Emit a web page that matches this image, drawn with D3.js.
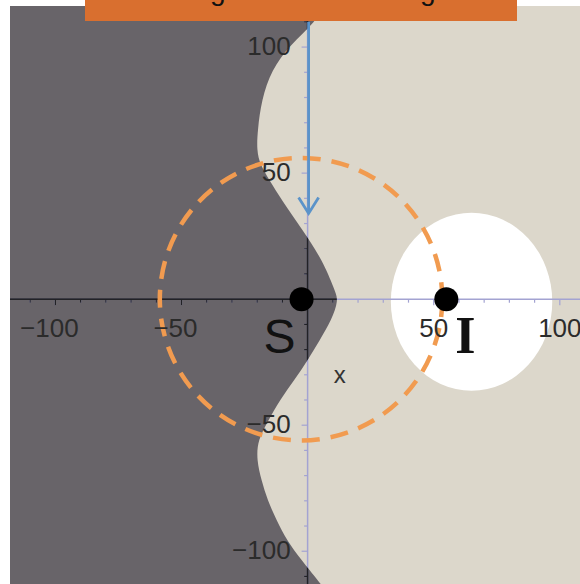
<!DOCTYPE html>
<html><head><meta charset="utf-8">
<script src="https://cdn.jsdelivr.net/npm/d3@7/dist/d3.min.js"></script>
<style>html,body{margin:0;padding:0;background:#fff;}svg{display:block;}</style>
</head><body>
<svg id="chart" width="580" height="584"></svg>
<script>
// ---- data (chart units) ----
const titleText = "Signal-dominant region";
const xDomain = [-118, 108];
const yDomain = [-113, 116.3];
const majorTicks = [-100, -50, 50, 100];
const minorTicks = d3.range(-110, 111, 10);
// boundary between dark (left) and light region: [x, y]
const boundaryX = [7.5, 3.2, -7.1, -14.3, -18.3, -19.8, -20.2, -18.8, -15.1, -10.3, -2.0, 5.9, 10.7, 12.3, 9.5, 4.8, 0, -5.2, -11.1, -15.5, -19.8, -20.2, -18.3, -15.9, -12.3, -8.3, -2.4, 6.0];
const boundaryY = [118, 109.9, 100.8, 90.9, 79.0, 67.1, 59.1, 53.2, 47.2, 39.3, 27.4, 15.5, 3.6, -0.4, -8.3, -16.3, -24.2, -32.1, -40.1, -48.0, -55.9, -63.9, -71.8, -79.8, -87.7, -95.6, -103.6, -114];
// white region (ellipse) centre and radii
const whiteCenter = [65, -1];
const whiteRadii = [32, 35.3];
// points
const pointNames = ["S", "I"];
const pointX = [-2.4, 55];
const pointY = [0, 0];
// dashed circle around S
const circleCenter = [-2.6, 0];
const circleRadius = 56;
// arrow
const arrowFrom = [0, 110];
const arrowTo = [0, 34];
// marker "x"
const markerPos = [12.7, -30.5];

// ---- drawing ----
const svg = d3.select("#chart");
const x = d3.scaleLinear().domain(xDomain).range([10, 580]);
const y = d3.scaleLinear().domain(yDomain).range([584, 6]);

const defs = svg.append("defs");
const boundary = boundaryX.map((v, i) => [v, boundaryY[i]]);
const darkPath = d3.line().x(d => x(d[0])).y(d => y(d[1])).curve(d3.curveBasis)(boundary);
const darkD = "M" + x(xDomain[0]) + "," + y(yDomain[1] + 2) + "L" + darkPath.slice(1) + "L" + x(xDomain[0]) + "," + y(yDomain[0] - 2) + "Z";

defs.append("clipPath").attr("id", "plotclip").append("rect")
  .attr("x", x(xDomain[0])).attr("y", y(yDomain[1]))
  .attr("width", x(xDomain[1]) - x(xDomain[0])).attr("height", y(yDomain[0]) - y(yDomain[1]));
defs.append("clipPath").attr("id", "darkclip").append("path").attr("d", darkD);

const plot = svg.append("g").attr("clip-path", "url(#plotclip)");
plot.append("rect")
  .attr("x", x(xDomain[0])).attr("y", y(yDomain[1]))
  .attr("width", x(xDomain[1]) - x(xDomain[0])).attr("height", y(yDomain[0]) - y(yDomain[1]))
  .attr("fill", "#dcd7cb");
plot.append("path").attr("d", darkD).attr("fill", "#686469");
plot.append("ellipse")
  .attr("cx", x(whiteCenter[0])).attr("cy", y(whiteCenter[1]))
  .attr("rx", x(whiteCenter[0] + whiteRadii[0]) - x(whiteCenter[0]))
  .attr("ry", y(whiteCenter[1]) - y(whiteCenter[1] + whiteRadii[1]))
  .attr("fill", "#ffffff");

function drawAxes(g, color, w) {
  g.append("line").attr("x1", x(xDomain[0])).attr("x2", x(xDomain[1]))
    .attr("y1", y(0)).attr("y2", y(0)).attr("stroke", color).attr("stroke-width", w);
  g.append("line").attr("x1", x(0)).attr("x2", x(0))
    .attr("y1", y(yDomain[1])).attr("y2", y(yDomain[0])).attr("stroke", color).attr("stroke-width", w);
  minorTicks.filter(t => t !== 0).forEach(t => {
    const len = (t % 50 === 0) ? 6 : 3.5;
    g.append("line").attr("x1", x(t)).attr("x2", x(t)).attr("y1", y(0)).attr("y2", y(0) + len)
      .attr("stroke", color).attr("stroke-width", 1.2);
    g.append("line").attr("x1", x(0)).attr("x2", x(0) - len).attr("y1", y(t)).attr("y2", y(t))
      .attr("stroke", color).attr("stroke-width", 1.2);
  });
}
drawAxes(plot.append("g"), "#a3a3d2", 1.5);
drawAxes(plot.append("g").attr("clip-path", "url(#darkclip)"), "#222226", 1.8);

// dashed circle
plot.append("circle")
  .attr("cx", x(circleCenter[0])).attr("cy", y(circleCenter[1]))
  .attr("r", x(circleCenter[0] + circleRadius) - x(circleCenter[0]))
  .attr("fill", "none").attr("stroke", "#f19b50").attr("stroke-width", 4.5)
  .attr("stroke-dasharray", "18,11");

// arrow
const ax = x(arrowFrom[0]) + 1, ay1 = y(arrowFrom[1]), ay2 = y(arrowTo[1]);
plot.append("line").attr("x1", ax).attr("x2", ax).attr("y1", ay1).attr("y2", ay2)
  .attr("stroke", "#5b93c9").attr("stroke-width", 2.8);
plot.append("path")
  .attr("d", `M${ax - 10},${ay2 - 16}L${ax},${ay2}L${ax + 10},${ay2 - 16}`)
  .attr("fill", "none").attr("stroke", "#5b93c9").attr("stroke-width", 2.8);

// tick labels
const lab = svg.append("g").attr("font-family", "Liberation Sans, Arial, sans-serif")
  .attr("font-size", 26).attr("fill", "#2b2b2b");
const fmt = t => (t < 0 ? "\u2212" : "") + Math.abs(t);
majorTicks.forEach(t => {
  lab.append("text").attr("x", x(t) - (t < 0 ? 6 : 0)).attr("y", y(0) + 38)
    .attr("text-anchor", "middle").text(fmt(t));
  lab.append("text").attr("x", x(0) - 17).attr("y", y(t) + 8)
    .attr("text-anchor", "end").text(fmt(t));
});

// points
pointNames.forEach((n, i) => {
  plot.append("circle").attr("cx", x(pointX[i])).attr("cy", y(pointY[i])).attr("r", 12).attr("fill", "#000");
});
svg.append("text").attr("x", x(pointX[0]) - 22).attr("y", y(0) + 54)
  .attr("text-anchor", "middle").attr("font-family", "Liberation Sans, Arial, sans-serif")
  .attr("font-size", 48).attr("fill", "#111").text(pointNames[0]);
svg.append("text").attr("x", x(pointX[1]) + 19).attr("y", y(0) + 54)
  .attr("text-anchor", "middle").attr("font-family", "Liberation Serif, Times New Roman, serif")
  .attr("font-size", 52).attr("font-weight", "bold").attr("fill", "#111").text(pointNames[1]);
svg.append("text").attr("x", x(markerPos[0])).attr("y", y(markerPos[1]) + 7)
  .attr("text-anchor", "middle").attr("font-family", "Liberation Sans, Arial, sans-serif")
  .attr("font-size", 24).attr("fill", "#333").text("x");

// title box (cut off at top)
svg.append("rect").attr("x", 85).attr("y", 0).attr("width", 432).attr("height", 21).attr("fill", "#d96f2f");
defs.append("clipPath").attr("id", "titleclip").append("rect").attr("x", 85).attr("y", 0).attr("width", 432).attr("height", 21);
svg.append("text").attr("clip-path", "url(#titleclip)").attr("x", 185).attr("y", 0)
  .attr("font-family", "Liberation Sans, Arial, sans-serif").attr("font-size", 28).attr("fill", "#111")
  .text(titleText);
</script>
</body></html>
